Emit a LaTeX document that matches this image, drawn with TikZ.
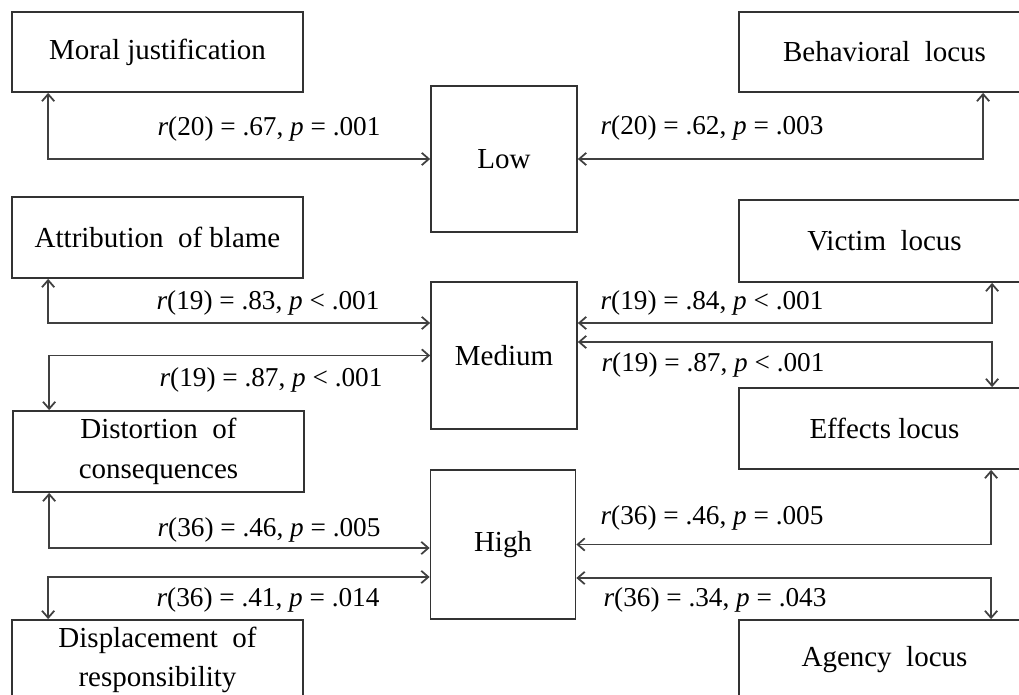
\documentclass[tikz,border=0pt]{standalone}
\usepackage{fontspec}
\setmainfont{Liberation Serif}
\usetikzlibrary{arrows.meta}

\begin{document}
\begin{tikzpicture}[x=0.02cm, y=-0.02cm,
        mech/.style={draw=black!80, line width=1pt, minimum width=5.82cm, minimum height=1.6cm,
            align=center, font=\fontsize{16.5}{22.4}\selectfont},
        level/.style={draw=black!80, line width=1pt, minimum width=2.92cm, minimum height=2.92cm,
            font=\fontsize{16.5}{20}\selectfont},
        link/.style={draw=black!75, line width=1pt,
            {Straight Barb[length=4pt,width=7pt]}-{Straight Barb[length=4pt,width=7pt]}},
        stat/.style={font=\fontsize{15.5}{18}\selectfont, inner sep=0pt}]
        \clip (0,0) rectangle (1019,695);

        % levels
        \node[level] (low) at (504,159) {Low};
        \node[level, minimum height=2.94cm] (medium) at (504,355.5) {Medium};
        \node[level, minimum width=2.9cm, minimum height=2.98cm] (high) at (503,544.5) {High};

        % left column
        \node[mech] (moral) at (157.5,52) {Moral justification};
        \node[mech, minimum height=1.62cm] (blame) at (157.5,237.5) {Attribution\ \ of blame};
        \node[mech, minimum height=1.62cm] (distort) at (158.5,451.5) {Distortion\ \ of\\consequences};
        \node[mech] (displace) at (157.5,660) {Displacement\ \ of\\responsibility};

        % right column
        \node[mech] (behav) at (884.5,52) {Behavioral\ \ locus};
        \node[mech, minimum height=1.64cm] (victim) at (884.5,241) {Victim\ \ locus};
        \node[mech, minimum height=1.62cm] (effects) at (884.5,428.5) {Effects locus};
        \node[mech] (agency) at (884.5,660) {Agency\ \ locus};

        \draw[link] ([xshift=0.74cm]moral.south west) |- (low.west);
        \draw[link] ([xshift=0.74cm]blame.south west) |- ([yshift=0.65cm]medium.west);
        \draw[link] ([xshift=0.74cm]distort.north west) |- (medium.west);
        \draw[link] ([xshift=0.74cm]distort.south west) |- ([yshift=-0.07cm]high.west);
        \draw[link] ([xshift=0.74cm]displace.north west) |- ([yshift=-0.65cm]high.west);

        \draw[link] ([xshift=4.9cm]behav.south west) |- (low.east);
        \draw[link] ([xshift=5.08cm]victim.south west) |- ([yshift=0.65cm]medium.east);
        \draw[link] ([xshift=5.08cm]effects.north west) |- ([yshift=0.27cm]medium.east);
        \draw[link] ([xshift=5.06cm]effects.south west) |- (high.east);
        \draw[link] ([xshift=5.06cm]agency.north west) |- ([yshift=-0.67cm]high.east);

        \node[stat] (s1) at (269,129) {\textit{r}(20) = .67, \textit{p} = .001};
        \node[stat] (s2) at (712,128) {\textit{r}(20) = .62, \textit{p} = .003};
        \node[stat] (s3) at (268,303) {\textit{r}(19) = .83, \textit{p} < .001};
        \node[stat] (s4) at (271,380) {\textit{r}(19) = .87, \textit{p} < .001};
        \node[stat] (s5) at (712,303) {\textit{r}(19) = .84, \textit{p} < .001};
        \node[stat] (s6) at (713,365) {\textit{r}(19) = .87, \textit{p} < .001};
        \node[stat] (s7) at (269,530) {\textit{r}(36) = .46, \textit{p} = .005};
        \node[stat] (s8) at (268,600) {\textit{r}(36) = .41, \textit{p} = .014};
        \node[stat] (s9) at (712,518) {\textit{r}(36) = .46, \textit{p} = .005};
        \node[stat] (s10) at (715,600) {\textit{r}(36) = .34, \textit{p} = .043};
    \end{tikzpicture}
\end{document}
